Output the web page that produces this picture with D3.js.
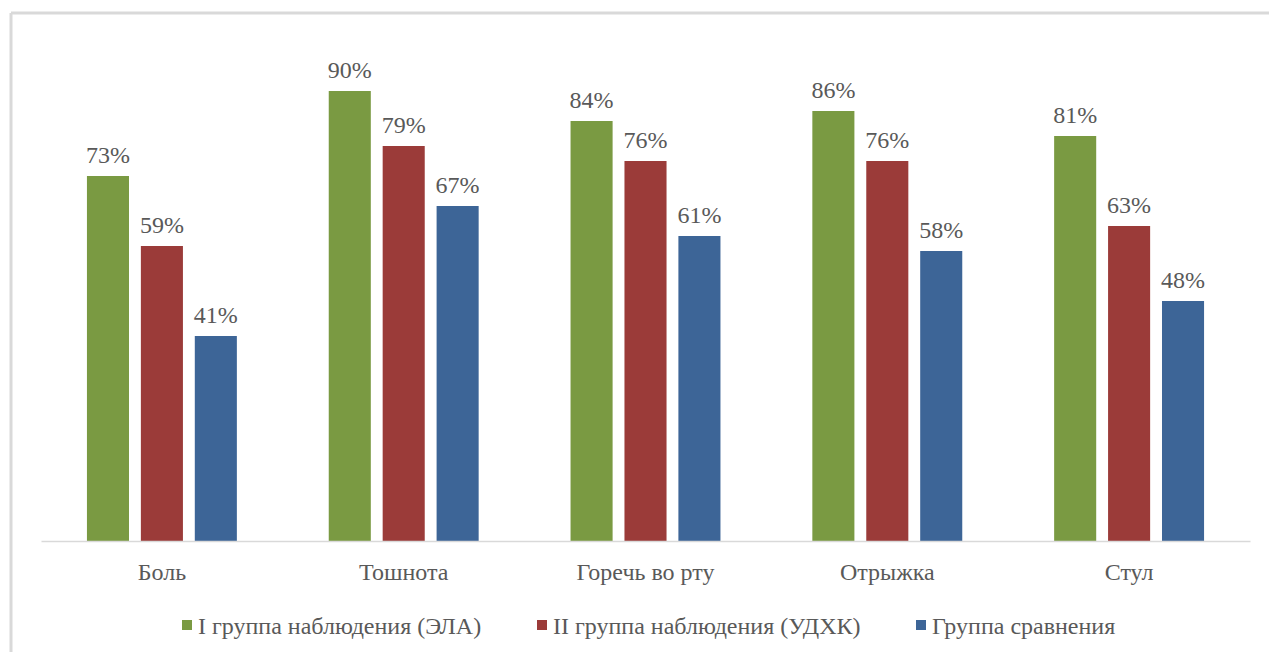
<!DOCTYPE html>
<html>
<head>
<meta charset="utf-8">
<script src="https://cdn.jsdelivr.net/npm/d3@7"></script>
<style>
  body { margin: 0; background: #fff; }
</style>
</head>
<body>
<script>
// categories and series (percent)
let categories = ["Боль", "Тошнота", "Горечь во рту", "Отрыжка", "Стул"];
let seriesNames = ["I группа наблюдения (ЭЛА)", "II группа наблюдения (УДХК)", "Группа сравнения"];
let ela  = [73, 90, 84, 86, 81];
let udhk = [59, 79, 76, 76, 63];
let comp = [41, 67, 61, 58, 48];
let colors = ["#7a9a42", "#9b3b39", "#3d6597"];

let width = 1269, height = 652;
const FONT = "'Liberation Serif', 'Times New Roman', serif";
const FSIZE = "24px";

let svg = d3.select("body")
            .append("svg")
            .attr("width", width)
            .attr("height", height);

// frame (only top and left edges show)
svg.append("line")
    .attr("x1", 11).attr("x2", width).attr("y1", 13).attr("y2", 13)
    .attr("stroke", "#d9d9d9").attr("stroke-width", 3);
svg.append("line")
    .attr("x1", 11).attr("x2", 11).attr("y1", 13).attr("y2", height)
    .attr("stroke", "#d9d9d9").attr("stroke-width", 3);

let values = [ela, udhk, comp];
let data = categories.map((c, i) => ({cat: c, vals: values.map(v => v[i])}));

let xScale = d3.scaleBand()
    .domain(categories)
    .range([41, 1250])
    .paddingInner(0.38)
    .paddingOuter(0.19);

let xInner = d3.scaleBand()
    .domain(d3.range(seriesNames.length))
    .range([0, xScale.bandwidth()])
    .paddingInner(0.22)
    .paddingOuter(0);

let yScale = d3.scaleLinear()
    .domain([0, 100])
    .range([541, 41]);

let groups = svg.selectAll("g.cat")
    .data(data)
    .enter()
    .append("g")
        .attr("class", "cat")
        .attr("transform", d => `translate(${xScale(d.cat)},0)`);

groups.selectAll("rect")
    .data(d => d.vals)
    .enter()
    .append("rect")
        .attr("x", (d, i) => xInner(i))
        .attr("y", d => yScale(d))
        .attr("width", xInner.bandwidth())
        .attr("height", d => yScale(0) - yScale(d))
        .attr("fill", (d, i) => colors[i]);

groups.selectAll("text.lbl")
    .data(d => d.vals)
    .enter()
    .append("text")
        .attr("class", "lbl")
        .attr("x", (d, i) => xInner(i) + xInner.bandwidth() / 2)
        .attr("y", d => yScale(d) - 13)
        .attr("text-anchor", "middle")
        .style("font-family", FONT)
        .style("font-size", FSIZE)
        .style("fill", "#595959")
        .text(d => d + "%");

// category axis
let xAxis = d3.axisBottom(xScale).tickSize(0).tickPadding(22);
let gx = svg.append("g")
    .attr("transform", `translate(0,${yScale(0)})`)
    .call(xAxis)
    .attr("font-family", null)
    .attr("font-size", null);
gx.select(".domain").attr("stroke", "#d9d9d9").attr("stroke-width", 1.5);
gx.selectAll("text")
    .style("font-size", FSIZE)
    .style("font-family", FONT)
    .style("fill", "#595959");

// legend
let legendX = [182, 537, 916];
let legend = svg.selectAll("g.legend")
    .data(seriesNames)
    .enter()
    .append("g")
        .attr("class", "legend")
        .attr("transform", (d, i) => `translate(${legendX[i]},620)`);

legend.append("rect")
    .attr("width", 10).attr("height", 10)
    .attr("fill", (d, i) => colors[i]);

legend.append("text")
    .attr("x", 16)
    .attr("y", 14)
    .style("font-family", FONT)
    .style("font-size", FSIZE)
    .style("fill", "#595959")
    .text(d => d);
</script>
</body>
</html>
